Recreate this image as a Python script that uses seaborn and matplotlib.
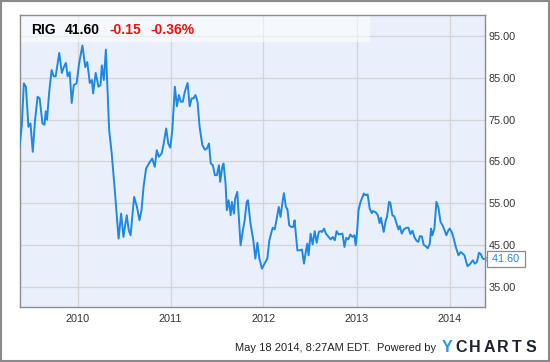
import matplotlib
matplotlib.use("Agg")
import matplotlib.pyplot as plt
import matplotlib.dates as mdates
from matplotlib.patches import Rectangle
import pandas as pd
import seaborn as sns

ticker = "RIG"
last_price = 41.60
change_abs = "-0.15"
change_pct = "-0.36%"
footer_text = "May 18 2014, 8:27AM EDT.  Powered by"
logo_letters = ["Y", "C", "H", "A", "R", "T", "S"]

dates = [
    "2009-05-18", "2009-05-27", "2009-06-04", "2009-06-12", "2009-06-22", "2009-06-30",
    "2009-07-09", "2009-07-18", "2009-07-28", "2009-08-05", "2009-08-16", "2009-08-24",
    "2009-08-29", "2009-09-03", "2009-09-11", "2009-09-21", "2009-09-29", "2009-10-07",
    "2009-10-21", "2009-10-31", "2009-11-08", "2009-11-16", "2009-11-23", "2009-12-01",
    "2009-12-09", "2009-12-17", "2009-12-28", "2010-01-07", "2010-01-20", "2010-01-31",
    "2010-02-08", "2010-02-18", "2010-02-26", "2010-03-03", "2010-03-13", "2010-03-24",
    "2010-04-01", "2010-04-06", "2010-04-14", "2010-04-22", "2010-05-05", "2010-05-15",
    "2010-05-26", "2010-06-11", "2010-06-21", "2010-06-30", "2010-07-13", "2010-07-21",
    "2010-07-28", "2010-08-11", "2010-08-22", "2010-09-01", "2010-09-09", "2010-09-17",
    "2010-09-27", "2010-10-08", "2010-10-21", "2010-10-31", "2010-11-08", "2010-11-16",
    "2010-11-27", "2010-12-04", "2010-12-15", "2010-12-23", "2010-12-31", "2011-01-08",
    "2011-01-18", "2011-01-26", "2011-02-03", "2011-02-10", "2011-02-18", "2011-02-26",
    "2011-03-09", "2011-03-17", "2011-03-25", "2011-04-01", "2011-04-09", "2011-04-17",
    "2011-04-25", "2011-05-06", "2011-05-16", "2011-05-24", "2011-06-01", "2011-06-08",
    "2011-06-16", "2011-06-24", "2011-07-02", "2011-07-10", "2011-07-15", "2011-07-23",
    "2011-07-28", "2011-08-05", "2011-08-10", "2011-08-17", "2011-08-25", "2011-08-30",
    "2011-09-07", "2011-09-12", "2011-09-20", "2011-10-03", "2011-10-11", "2011-10-19",
    "2011-10-27", "2011-11-01", "2011-11-11", "2011-11-22", "2011-11-30", "2011-12-08",
    "2011-12-16", "2011-12-26", "2012-01-05", "2012-01-16", "2012-01-24", "2012-02-06",
    "2012-02-14", "2012-02-22", "2012-03-01", "2012-03-08", "2012-03-13", "2012-03-21",
    "2012-03-29", "2012-04-04", "2012-04-11", "2012-04-19", "2012-04-27", "2012-05-02",
    "2012-05-13", "2012-05-23", "2012-05-31", "2012-06-08", "2012-06-16", "2012-06-21",
    "2012-06-26", "2012-07-04", "2012-07-12", "2012-07-20", "2012-07-28", "2012-08-05",
    "2012-08-12", "2012-08-18", "2012-08-26", "2012-09-02", "2012-09-13", "2012-09-21",
    "2012-09-29", "2012-10-07", "2012-10-14", "2012-10-22", "2012-11-06", "2012-11-14",
    "2012-11-21", "2012-11-29", "2012-12-07", "2012-12-15", "2012-12-23", "2012-12-28",
    "2013-01-02", "2013-01-08", "2013-01-16", "2013-01-29", "2013-02-05", "2013-02-13",
    "2013-02-21", "2013-03-01", "2013-03-06", "2013-03-17", "2013-03-25", "2013-04-01",
    "2013-04-06", "2013-04-17", "2013-04-25", "2013-04-30", "2013-05-08", "2013-05-13",
    "2013-05-21", "2013-05-29", "2013-06-06", "2013-06-14", "2013-06-19", "2013-06-27",
    "2013-07-05", "2013-07-15", "2013-07-23", "2013-07-31", "2013-08-08", "2013-08-16",
    "2013-08-24", "2013-08-31", "2013-09-06", "2013-09-14", "2013-09-21", "2013-09-29",
    "2013-10-07", "2013-10-15", "2013-10-20", "2013-10-25", "2013-11-02", "2013-11-10",
    "2013-11-18", "2013-11-26", "2013-12-04", "2013-12-12", "2013-12-19", "2013-12-27",
    "2014-01-01", "2014-01-09", "2014-01-17", "2014-01-25", "2014-02-05", "2014-02-13",
    "2014-02-21", "2014-02-28", "2014-03-12", "2014-03-22", "2014-04-02", "2014-04-10",
    "2014-04-18", "2014-04-26", "2014-05-03", "2014-05-11", "2014-05-16",
]

prices = [
    68.5, 73.7, 83.7, 82.9, 73.3, 74.1,
    67.3, 74.9, 80.5, 80.1, 74.1, 73.8,
    77.0, 75.0, 81.3, 86.9, 85.4, 85.4,
    91.0, 86.2, 87.6, 88.6, 85.4, 86.4,
    79.0, 83.3, 83.7, 88.5, 92.8, 87.6,
    88.8, 83.8, 84.5, 81.3, 86.2, 82.9,
    83.3, 88.0, 84.5, 91.8, 72.5, 66.9,
    58.9, 46.5, 52.5, 46.9, 52.1, 48.5,
    47.3, 56.5, 54.1, 50.9, 53.3, 58.9,
    63.3, 64.5, 65.7, 63.7, 67.7, 66.1,
    66.9, 68.9, 72.9, 69.3, 68.3, 72.5,
    82.9, 78.2, 80.9, 79.3, 79.3, 81.7,
    83.8, 78.2, 80.1, 80.1, 80.9, 79.3,
    73.3, 68.9, 67.8, 68.1, 69.3, 64.5,
    64.1, 61.7, 61.7, 64.1, 60.1, 63.7,
    64.5, 59.7, 53.3, 55.7, 52.1, 55.3,
    52.5, 56.1, 57.7, 44.9, 48.1, 50.9,
    55.3, 55.7, 50.1, 46.1, 41.7, 45.5,
    41.7, 39.3, 40.5, 41.7, 46.1, 49.1,
    48.7, 51.3, 54.1, 51.7, 54.1, 57.4,
    54.1, 53.5, 49.7, 49.3, 49.3, 50.9,
    43.7, 43.7, 43.9, 40.5, 43.7, 45.3,
    42.5, 47.7, 45.1, 48.3, 45.5, 48.1,
    48.3, 48.1, 48.9, 47.7, 46.9, 46.3,
    46.9, 46.1, 48.3, 47.5, 47.7, 44.5,
    46.7, 46.3, 47.5, 46.9, 47.3, 44.9,
    47.7, 53.3, 55.3, 57.3, 56.9, 57.1,
    53.7, 52.6, 53.1, 52.8, 52.1, 50.2,
    51.5, 48.1, 50.9, 51.7, 55.3, 55.1,
    52.1, 51.8, 50.2, 48.7, 49.5, 47.7,
    48.7, 49.1, 49.1, 47.6, 48.4, 46.8,
    46.0, 45.7, 47.1, 47.0, 45.0, 44.7,
    44.2, 45.3, 48.9, 47.3, 48.9, 55.3,
    53.9, 50.5, 49.7, 48.5, 47.3, 48.5,
    48.9, 48.1, 46.5, 44.5, 42.5, 43.3,
    42.9, 42.5, 39.9, 40.4, 41.3, 40.5,
    40.9, 43.1, 42.8, 41.7, 41.6,
]

y_ticks = [35, 45, 55, 65, 75, 85, 95]
x_start, x_end = "2009-05-18", "2014-05-18"

df = pd.DataFrame({"date": pd.to_datetime(dates), "price": prices})

sns.set_style("white")
plt.rcParams["font.family"] = ["Liberation Sans", "DejaVu Sans"]

fig = plt.figure(figsize=(5.5, 3.62), dpi=100)
ax = fig.add_axes([0.0355, 0.1506, 0.8455, 0.807])
ax.set_facecolor("#e9f0fb")

line_color = "#1e88e5"
sns.lineplot(data=df, x="date", y="price", ax=ax, color=line_color,
             linewidth=1.4, zorder=3)

ax.set_xlim(pd.Timestamp(x_start), pd.Timestamp(x_end))
ax.set_ylim(30, 100)
ax.set_xlabel("")
ax.set_ylabel("")

ax.set_yticks(y_ticks)
ax.set_yticklabels([f"{v:.2f}" for v in y_ticks])
ax.yaxis.tick_right()
ax.xaxis.set_major_locator(mdates.YearLocator())
ax.xaxis.set_major_formatter(mdates.DateFormatter("%Y"))
ax.tick_params(axis="y", length=0, pad=3.2, labelsize=7.8, labelcolor="#333333")
ax.tick_params(axis="x", length=0, pad=5, labelsize=7.8, labelcolor="#333333")

ax.grid(True, color="#d4d4d4", linewidth=0.9)
ax.set_axisbelow(True)
for s in ax.spines.values():
    s.set_visible(True)
    s.set_color("#8c8c8c")
    s.set_linewidth(1.0)

# translucent header band
ax.add_patch(Rectangle((0, 0.9086), 0.754, 0.0914, transform=ax.transAxes,
                       facecolor="white", alpha=0.55, edgecolor="none", zorder=2))

# header texts
hy = 1 - 29.5 / 362
fig.text(30.9 / 550, hy, ticker, fontsize=10, fontweight="bold", color="black", va="center")
fig.text(64.9 / 550, hy, f"{last_price:.2f}", fontsize=10, fontweight="bold", color="black", va="center")
fig.text(109.8 / 550, hy, change_abs, fontsize=10, fontweight="bold", color="#ee1111", va="center")
fig.text(150.8 / 550, hy, change_pct, fontsize=10, fontweight="bold", color="#ee1111", va="center")

# last price marker box
tr = ax.get_yaxis_transform()
ax.plot([1.0105, 1.0, 1.0105], [last_price + 0.8, last_price, last_price - 0.8],
        transform=tr, color="#8c8c8c", lw=0.9, clip_on=False, zorder=5)
ax.text(1.0105, last_price, f" {last_price:.2f} ", transform=tr, ha="left", va="center",
        fontsize=7.8, color=line_color, zorder=6,
        bbox=dict(boxstyle="square,pad=0.25", fc="white", ec="#8c8c8c", lw=0.9))

# footer
fy = 1 - 348.3 / 362
fig.text(435.7 / 550, fy, footer_text, fontsize=8, color="#222222", ha="right", va="center")
logo_left, logo_step = 446.8, 14.05
for i, ch in enumerate(logo_letters):
    fig.text((logo_left + i * logo_step) / 550, 1 - 347.3 / 362, ch, fontsize=11.5,
             fontweight="bold", color="#2a96dc" if i == 0 else "#1c2230",
             ha="center", va="center")

# outer frame
fig.add_artist(Rectangle((0.001, 0.002), 0.997, 0.996, transform=fig.transFigure,
                         fill=False, edgecolor="#8a8a8a", linewidth=1.5))

fig.savefig("out.png", dpi=100)
